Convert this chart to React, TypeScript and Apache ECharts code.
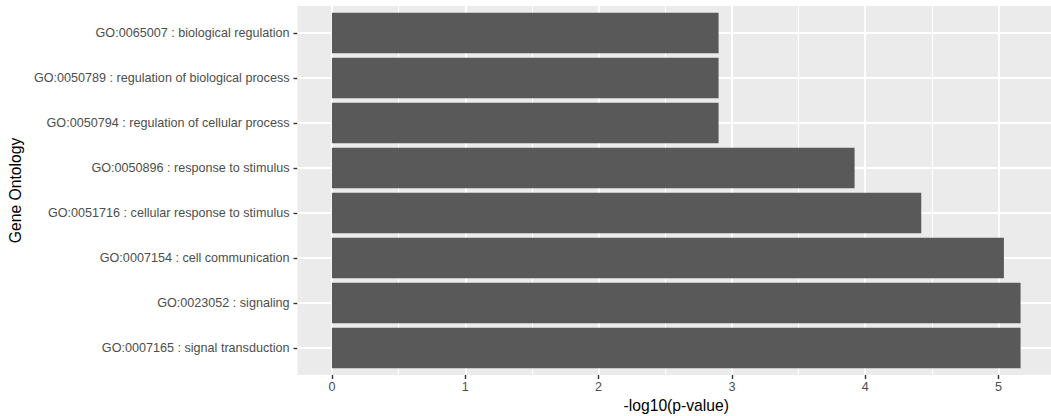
import React, { useEffect, useRef } from "react";
import * as echarts from "echarts";

// Categories, bottom to top (ECharts category y axis starts at the bottom)
const categories: string[] = [
  "GO:0007165 : signal transduction",
  "GO:0023052 : signaling",
  "GO:0007154 : cell communication",
  "GO:0051716 : cellular response to stimulus",
  "GO:0050896 : response to stimulus",
  "GO:0050794 : regulation of cellular process",
  "GO:0050789 : regulation of biological process",
  "GO:0065007 : biological regulation",
];
const values: number[] = [5.165, 5.165, 5.04, 4.42, 3.92, 2.9, 2.9, 2.9];

const majorTicks: number[] = [0, 1, 2, 3, 4, 5];
const minorTicks: number[] = [0.5, 1.5, 2.5, 3.5, 4.5];

const xTitle = "-log10(p-value)";
const yTitle = "Gene Ontology";

const FONT = "'Liberation Sans', Arial, Helvetica, sans-serif";

export default function App() {
  const ref = useRef<HTMLDivElement>(null);

  useEffect(() => {
    if (!ref.current) return;
    const chart = echarts.init(ref.current, undefined, { renderer: "svg" });

    const dataMax = Math.max(...values);
    const xMin = -0.05 * dataMax;
    const xMax = dataMax * 1.05;

    // panel geometry (ggplot-like: discrete expansion of 0.6 bands)
    const panelLeft = 297.5;
    const panelWidth = 757.5;
    const panelTop = 6;
    const band = 45;
    const panelHeight = band * (categories.length + 0.2);

    const hiddenLine = {
      show: true,
      onZero: false,
      lineStyle: { color: "rgba(0,0,0,0)", width: 0 },
    };
    const tickStyle = { color: "#333333", width: 1.4 };

    const option: any = {
      animation: false,
      backgroundColor: "#FFFFFF",
      textStyle: { fontFamily: FONT },
      grid: [
        {
          left: panelLeft,
          top: panelTop,
          width: panelWidth,
          height: panelHeight,
          show: true,
          backgroundColor: "#EBEBEB",
          borderWidth: 0,
          containLabel: false,
          outerBoundsMode: "none",
        },
        {
          left: panelLeft,
          top: panelTop + 0.1 * band,
          width: panelWidth,
          height: band * categories.length,
          containLabel: false,
          outerBoundsMode: "none",
        },
      ],
      xAxis: [
        {
          type: "value",
          gridIndex: 0,
          position: "bottom",
          min: xMin,
          max: xMax,
          axisLine: hiddenLine,
          axisTick: {
            show: true,
            length: 4,
            customValues: majorTicks,
            lineStyle: tickStyle,
          },
          axisLabel: {
            show: true,
            customValues: majorTicks,
            color: "#4D4D4D",
            fontSize: 12.6,
            fontFamily: FONT,
            margin: 5,
            formatter: (v: number) =>
              Math.abs(v - Math.round(v)) < 1e-9 ? String(Math.round(v)) : "",
          },
          splitLine: { show: false },
          name: xTitle,
          nameLocation: "middle",
          nameGap: 22,
          nameTextStyle: { color: "#000000", fontSize: 15.7, fontFamily: FONT },
        },
        {
          type: "value",
          gridIndex: 1,
          min: xMin,
          max: xMax,
          show: false,
          splitLine: { show: false },
        },
      ],
      yAxis: [
        {
          type: "value",
          gridIndex: 0,
          min: 0,
          max: 1,
          show: false,
          splitLine: { show: false },
        },
        {
          type: "category",
          gridIndex: 1,
          position: "left",
          data: categories,
          axisLine: hiddenLine,
          axisTick: {
            show: true,
            alignWithLabel: true,
            length: 4,
            lineStyle: tickStyle,
          },
          axisLabel: {
            color: "#4D4D4D",
            fontSize: 12.6,
            fontFamily: FONT,
            margin: 8,
          },
          splitLine: { show: false },
          name: yTitle,
          nameLocation: "middle",
          nameRotate: 90,
          nameGap: 271,
          nameTextStyle: { color: "#000000", fontSize: 15.7, fontFamily: FONT },
        },
      ],
      series: [
        {
          type: "line",
          xAxisIndex: 0,
          yAxisIndex: 0,
          data: [],
          silent: true,
          z: 1,
          markLine: {
            silent: true,
            z: 1,
            symbol: ["none", "none"],
            label: { show: false },
            emphasis: { disabled: true },
            data: [
              ...minorTicks.map((v) => ({
                xAxis: v,
                lineStyle: { color: "#FFFFFF", width: 1, type: "solid" },
              })),
              ...majorTicks.map((v) => ({
                xAxis: v,
                lineStyle: { color: "#FFFFFF", width: 2, type: "solid" },
              })),
            ],
          },
        },
        {
          type: "line",
          xAxisIndex: 1,
          yAxisIndex: 1,
          data: [],
          silent: true,
          z: 1,
          markLine: {
            silent: true,
            z: 1,
            symbol: ["none", "none"],
            label: { show: false },
            emphasis: { disabled: true },
            data: categories.map((c) => ({
              yAxis: c,
              lineStyle: { color: "#FFFFFF", width: 2, type: "solid" },
            })),
          },
        },
        {
          type: "bar",
          xAxisIndex: 1,
          yAxisIndex: 1,
          data: values,
          barWidth: "90%",
          z: 3,
          itemStyle: { color: "#595959" },
          silent: true,
        },
      ],
    };

    chart.setOption(option);
    return () => chart.dispose();
  }, []);

  return (
    <div
      ref={ref}
      style={{ position: "fixed", left: 0, top: 0, width: 1051, height: 416 }}
    />
  );
}
